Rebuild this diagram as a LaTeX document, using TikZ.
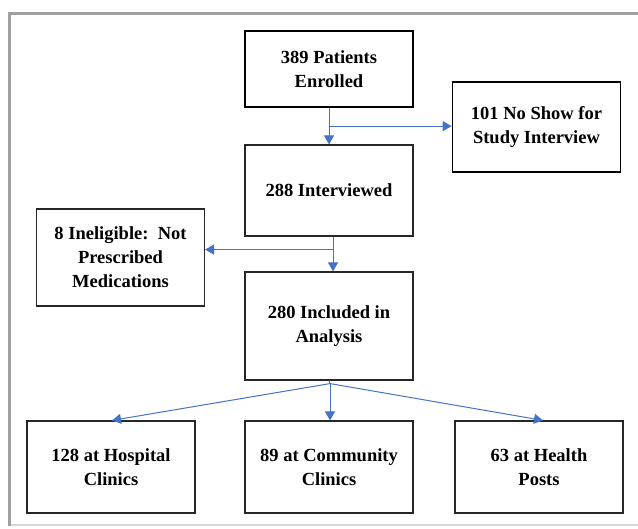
\documentclass[tikz,border=0pt]{standalone}
\usepackage{fontspec}
\setmainfont{Liberation Serif}
\usetikzlibrary{arrows.meta,calc}
\definecolor{conncol}{HTML}{4472C4}
\definecolor{framecol}{HTML}{A0A0A0}
\definecolor{framelight}{HTML}{D8D8D8}
\begin{document}
\begin{tikzpicture}[x=1pt,y=-1pt,
  box/.style={draw=black!85, line width=1.2pt, align=center,
    font=\bfseries\fontsize{18.5}{24}\selectfont, inner sep=0pt,
    minimum width=168pt},
  thickbox/.style={box, draw=black, line width=1.8pt},
  conn/.style={draw=conncol, line width=1pt, -{Triangle[length=9pt,width=10pt]}},
  connline/.style={draw=conncol, line width=1pt}]
\useasboundingbox (0,0) rectangle (638,529);
% frame
\draw[framelight, line width=2pt] (9,525) -- (640,525);
\draw[framecol, line width=3pt] (9,526) -- (9,14) -- (640,14);
% nodes
\node[thickbox, minimum height=76pt] (b1) at (329,69) {389 Patients\\Enrolled};
\node[thickbox, minimum height=90pt] (b2) at (536.5,127) {101 No Show for\\Study Interview};
\node[box, minimum height=91pt] (b3) at (329,190.5) {288 Interviewed};
\node[box, minimum height=97pt] (b4) at (120.5,257.5) {8 Ineligible:\ \ Not\\Prescribed\\Medications};
\node[box, minimum height=108pt] (b5) at (329,326) {280 Included in\\Analysis};
\node[box, minimum height=92pt] (b6) at (111,467) {128 at Hospital\\Clinics};
\node[box, minimum height=92pt] (b7) at (329,467) {89 at Community\\Clinics};
\node[box, minimum height=92pt] (b8) at (539,467) {63 at Health\\Posts};
% connectors
\draw[conn] (b1.south) -- (b3.north);
\coordinate (j1) at ($(b1.south)!0.5!(b3.north)$);
\draw[conn] (j1) -- (j1 -| b2.west);
\draw[conn] ([xshift=4pt]b3.south) -- ([xshift=4pt]b5.north);
\coordinate (j2) at ([xshift=4pt,yshift=-13pt]b3.south);
\draw[conn] (j2) -- (j2 -| b4.east);
\coordinate (j3) at ([xshift=1pt,yshift=-3pt]b5.south);
\draw[connline] (b5.south) -- (j3);
\draw[conn] (j3) -- ([xshift=1pt]b6.north);
\draw[conn] (j3) -- ([xshift=1pt]b7.north);
\draw[conn] (j3) -- ([xshift=4pt]b8.north);
\end{tikzpicture}
\end{document}
